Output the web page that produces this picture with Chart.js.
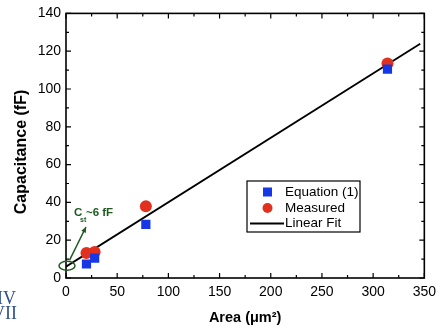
<!DOCTYPE html>
<html>
<head>
<meta charset="utf-8">
<script src="https://cdn.jsdelivr.net/npm/chart.js@4.4.0/dist/chart.umd.min.js"></script>
<style>
  html, body { margin: 0; padding: 0; background: #fff; }
  #wrap { width: 442px; height: 328px; }
</style>
</head>
<body>
<div id="wrap"><canvas id="chart" width="442" height="328"></canvas></div>
<script>
// data
var areas = [20, 28, 78, 314];
var equationVals = [7.4, 10.5, 28.4, 110.5];
var measuredVals = [13.2, 13.7, 38, 113.5];
var fitX = [0, 346];
var fitY = [6, 124];
var xTicks = [0, 50, 100, 150, 200, 250, 300, 350];
var yTicks = [0, 20, 40, 60, 80, 100, 120, 140];

var FONT = "'Liberation Sans', Arial, sans-serif";
var BLUE = '#1537e6';
var RED = '#e2301f';
var GREEN = '#1f5a1f';

function pts(xs, ys) {
    return xs.map(function (x, i) { return { x: x, y: ys[i] }; });
}

// frame, inside ticks, annotation, legend box, logo fragment
var decor = {
    id: 'decor',
    afterDraw: function (chart) {
        var c = chart.ctx;
        var a = chart.chartArea;
        var xs = chart.scales.x, ys = chart.scales.y;
        c.save();
        c.strokeStyle = '#000';
        c.lineWidth = 1.6;
        c.strokeRect(a.left, a.top, a.right - a.left, a.bottom - a.top);

        c.lineWidth = 1.2;
        c.beginPath();
        for (var v = 0; v <= 350; v += 25) {
            var px = xs.getPixelForValue(v);
            var len = (v % 50 === 0) ? 5 : 3;
            c.moveTo(px, a.bottom); c.lineTo(px, a.bottom - len);
            c.moveTo(px, a.top); c.lineTo(px, a.top + len);
        }
        for (var w = 0; w <= 140; w += 10) {
            var py = ys.getPixelForValue(w);
            var l2 = (w % 20 === 0) ? 5 : 3;
            c.moveTo(a.left, py); c.lineTo(a.left + l2, py);
            c.moveTo(a.right, py); c.lineTo(a.right - l2, py);
        }
        c.stroke();

        // y title, drawn by hand so it sits a bit below centre like the original
        c.save();
        c.translate(22, 152);
        c.rotate(-Math.PI / 2);
        c.font = 'bold 16px ' + FONT;
        c.fillStyle = '#000';
        c.textAlign = 'center';
        c.textBaseline = 'middle';
        c.fillText('Capacitance (fF)', 0, 0);
        c.restore();

        // annotation near the intercept
        var ex = xs.getPixelForValue(0), ey = ys.getPixelForValue(6.5);
        c.strokeStyle = GREEN;
        c.lineWidth = 1.5;
        c.beginPath();
        c.ellipse(ex + 1, ey, 8, 4.5, 0, 0, Math.PI * 2);
        c.stroke();
        var x1 = xs.getPixelForValue(3.5), y1 = ys.getPixelForValue(9.5);
        var x2 = xs.getPixelForValue(19.5), y2 = ys.getPixelForValue(27);
        c.beginPath();
        c.moveTo(x1, y1); c.lineTo(x2, y2);
        c.stroke();
        var ang = Math.atan2(y2 - y1, x2 - x1);
        c.fillStyle = GREEN;
        c.beginPath();
        c.moveTo(x2, y2);
        c.lineTo(x2 - 6 * Math.cos(ang - 0.45), y2 - 6 * Math.sin(ang - 0.45));
        c.lineTo(x2 - 6 * Math.cos(ang + 0.45), y2 - 6 * Math.sin(ang + 0.45));
        c.closePath();
        c.fill();
        c.textBaseline = 'alphabetic';
        c.textAlign = 'left';
        var tx = xs.getPixelForValue(7.8), ty = ys.getPixelForValue(32.6);
        c.font = 'bold 11.5px ' + FONT;
        c.fillText('C', tx, ty);
        c.font = 'bold 7px ' + FONT;
        c.fillText('st', tx + 6, ty + 6);
        c.font = 'bold 11.5px ' + FONT;
        c.fillText('~6 fF', tx + 12, ty);

        // legend box
        var lx = 247, ly = 181, lw = 113, lh = 51;
        c.strokeStyle = '#000';
        c.lineWidth = 1.2;
        c.strokeRect(lx, ly, lw, lh);
        c.font = '13.5px ' + FONT;
        c.textBaseline = 'middle';
        var ds = chart.data.datasets;
        c.fillStyle = BLUE;
        c.fillRect(263, 192 - 4.5, 9, 9);
        c.fillStyle = RED;
        c.beginPath(); c.arc(267.5, 208, 5, 0, Math.PI * 2); c.fill();
        c.strokeStyle = '#000';
        c.lineWidth = 1.8;
        c.beginPath(); c.moveTo(250, 223.5); c.lineTo(284, 223.5); c.stroke();
        c.fillStyle = '#000';
        c.fillText(ds[0].label, 285, 192);
        c.fillText(ds[1].label, 285, 208);
        c.fillText(ds[2].label, 285, 223);

        // cut-off logo at bottom left
        c.fillStyle = '#2d4f8a';
        c.textBaseline = 'alphabetic';
        c.font = '18px "Liberation Serif", serif';
        c.fillText('IV', -3, 304);
        c.fillText('VII', -8, 319);
        c.restore();
    }
};

new Chart(document.getElementById('chart'), {
    type: 'scatter',
    data: {
        datasets: [{
            label: 'Equation (1)',
            data: pts(areas, equationVals),
            pointStyle: 'rect',
            pointRadius: 6.5,
            backgroundColor: BLUE,
            borderWidth: 0
        }, {
            label: 'Measured',
            data: pts(areas, measuredVals),
            pointStyle: 'circle',
            pointRadius: 6,
            backgroundColor: RED,
            borderWidth: 0
        }, {
            label: 'Linear Fit',
            type: 'line',
            data: pts(fitX, fitY),
            borderColor: '#000',
            borderWidth: 1.8,
            pointRadius: 0,
            fill: false
        }]
    },
    options: {
        responsive: false,
        animation: false,
        layout: { padding: { top: 12, right: 13, left: 0, bottom: 0 } },
        plugins: { legend: { display: false }, tooltip: { enabled: false } },
        scales: {
            x: {
                type: 'linear', min: 0, max: 350,
                afterBuildTicks: function (s) { s.ticks = xTicks.map(function (v) { return { value: v }; }); },
                afterFit: function (s) { s.height = 50; },
                grid: { display: false, drawTicks: false },
                border: { display: false },
                ticks: { padding: 6, color: '#000', font: { family: FONT, size: 14 }, maxRotation: 0 },
                title: { display: true, text: 'Area (μm²)', color: '#000', font: { family: FONT, size: 14.5, weight: 'bold' }, padding: { top: 0, bottom: 1 } }
            },
            y: {
                type: 'linear', min: 0, max: 140,
                afterBuildTicks: function (s) { s.ticks = yTicks.map(function (v) { return { value: v }; }); },
                afterFit: function (s) { s.width = 66; },
                grid: { display: false, drawTicks: false },
                border: { display: false },
                ticks: { padding: 5, color: '#000', font: { family: FONT, size: 14 } },
                title: { display: false }
            }
        }
    },
    plugins: [decor]
});
</script>
</body>
</html>
